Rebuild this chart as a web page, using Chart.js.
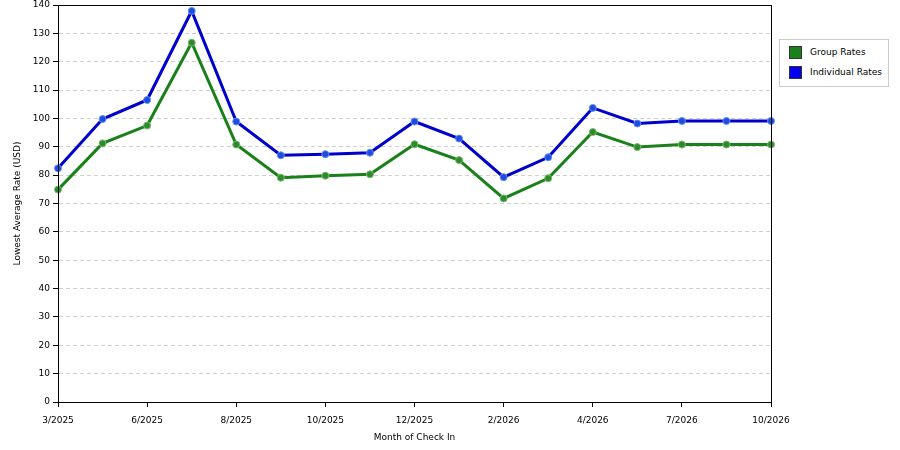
<!DOCTYPE html>
<html>
<head>
<meta charset="utf-8">
<script src="https://cdn.jsdelivr.net/npm/chart.js@4.4.1/dist/chart.umd.min.js"></script>
<style>
  html, body { margin: 0; padding: 0; background: #fff; }
  #wrap { position: relative; width: 900px; height: 450px; }
  #legend {
    position: absolute; left: 779px; top: 39px; width: 108px; height: 46px;
    border: 1px solid #ccc; background: #fff;
    font-family: "DejaVu Sans", sans-serif; font-size: 9px; color: #000;
  }
  #legend div { position: absolute; left: 9px; height: 13px; line-height: 13px; }
  #legend span.sw { display: inline-block; width: 11px; height: 11px; border: 1px solid #333; vertical-align: top; margin-right: 8px; }
</style>
</head>
<body>
<div id="wrap">
  <canvas id="rateChart" width="900" height="450"></canvas>
  <div id="legend">
    <div style="top:6px"><span class="sw" style="background:#1a801a"></span>Group Rates</div>
    <div style="top:26px"><span class="sw" style="background:#0000ee"></span>Individual Rates</div>
  </div>
</div>
<script>
const months = ["3/2025", "5/2025", "6/2025", "7/2025", "8/2025", "9/2025", "10/2025", "11/2025", "12/2025",
  "1/2026", "2/2026", "3/2026", "4/2026", "6/2026", "7/2026", "9/2026", "10/2026"];
const groupRates = [74.9, 91.2, 97.5, 126.7, 90.8, 79.1, 79.8, 80.3, 90.9, 85.3, 71.8, 78.9, 95.2, 89.9, 90.8, 90.8, 90.8];
const individualRates = [82.4, 99.8, 106.5, 137.9, 98.9, 87.0, 87.4, 87.9, 98.9, 92.9, 79.3, 86.3, 103.7, 98.2, 99.1, 99.1, 99.1];
const yTicks = [0, 10, 20, 30, 40, 50, 60, 70, 80, 90, 100, 110, 120, 130, 140];

const FONT = { family: "DejaVu Sans", size: 9 };

// box round the plot area (top and right sides)
const frame = {
  id: "frame",
  afterDraw(chart) {
    const a = chart.chartArea, c = chart.ctx;
    c.save();
    c.strokeStyle = "#000";
    c.lineWidth = 1;
    c.strokeRect(a.left + 0.5, a.top + 0.5, a.right - a.left, a.bottom - a.top);
    c.restore();
  }
};

new Chart(document.getElementById("rateChart"), {
  type: "line",
  data: {
    labels: months,
    datasets: [
      {
        label: "Individual Rates",
        data: individualRates,
        borderColor: "#0000cc",
        borderWidth: 3,
        pointRadius: 3.5,
        pointBackgroundColor: "#1a4de0",
        pointBorderColor: "#6a8cf0",
        pointBorderWidth: 1,
        tension: 0
      },
      {
        label: "Group Rates",
        data: groupRates,
        borderColor: "#1a801a",
        borderWidth: 3,
        pointRadius: 3.5,
        pointBackgroundColor: "#2e8a2e",
        pointBorderColor: "#77bb66",
        pointBorderWidth: 1,
        tension: 0
      }
    ]
  },
  options: {
    responsive: false,
    animation: false,
    layout: { padding: { top: 5, right: 129, left: 0, bottom: 3 } },
    plugins: { legend: { display: false }, tooltip: { enabled: false } },
    scales: {
      x: {
        offset: false,
        afterFit: s => { s.height = 45; },
        border: { color: "#000", width: 1 },
        grid: {
          drawOnChartArea: false,
          tickLength: 5,
          tickColor: ctx => (ctx.index % 2 ? "rgba(0,0,0,0)" : "#000")
        },
        ticks: {
          autoSkip: false,
          maxRotation: 0,
          color: "#000",
          font: FONT,
          padding: 8,
          callback: (v, i) => (i % 2 ? "" : months[i])
        },
        title: { display: true, text: "Month of Check In", color: "#000", font: FONT, padding: { top: 1 } }
      },
      y: {
        min: 0,
        max: 140,
        afterFit: s => { s.width = 58; s.paddingTop = 0; s.paddingBottom = 0; },
        afterBuildTicks: s => { s.ticks = yTicks.map(v => ({ value: v })); },
        border: { color: "#000", width: 1, dash: [4, 3] },
        grid: {
          color: "#d0d0d0",
          tickColor: "#000",
          tickLength: 5,
          drawTicks: true
        },
        ticks: { color: "#000", font: FONT, padding: 3 },
        title: { display: true, text: "Lowest Average Rate (USD)", color: "#000", font: FONT, padding: { top: 12, bottom: 4 } }
      }
    }
  },
  plugins: [frame]
});
</script>
</body>
</html>
